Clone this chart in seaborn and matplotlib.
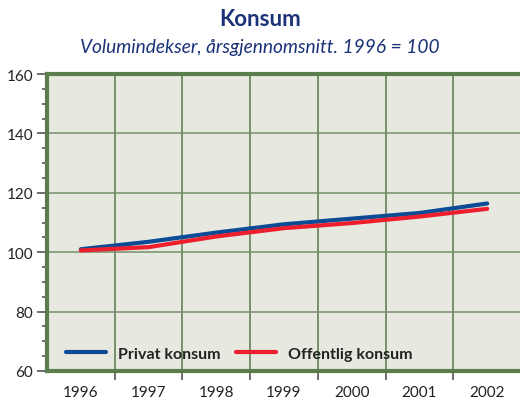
import matplotlib
matplotlib.use("Agg")
import matplotlib.pyplot as plt
from matplotlib.ticker import MultipleLocator, FixedLocator
import numpy as np
import pandas as pd
import seaborn as sns

years = [1996, 1997, 1998, 1999, 2000, 2001, 2002]
privat = [101.0, 103.5, 106.6, 109.4, 111.3, 113.2, 116.4]
offentlig = [100.6, 101.7, 105.3, 108.1, 109.8, 112.0, 114.6]
series_names = ["Privat konsum", "Offentlig konsum"]

title = "Konsum"
subtitle = "Volumindekser, årsgjennomsnitt. 1996 = 100"

df = pd.DataFrame({
    "year": years * 2,
    "value": privat + offentlig,
    "serie": [series_names[0]] * len(years) + [series_names[1]] * len(years),
})

sns.set_style("white")
plt.rcParams["font.family"] = ["Lato", "DejaVu Sans"]

green = "#5b7f4c"
grid_green = "#74906a"
navy = "#1b3278"

fig = plt.figure(figsize=(5.2, 4.02), dpi=100)
ax = fig.add_axes([47 / 520, 1 - 372 / 402, 1 - 47 / 520 + 0.002, (372 - 75) / 402])
ax.set_facecolor("#e7e8e0")

sns.lineplot(data=df, x="year", y="value", hue="serie",
             palette=["#0c4c97", "#ee1f2d"], linewidth=3.0,
             ax=ax, legend=False, zorder=3)

ax.set_xlim(1995.5, 2002.5)
ax.set_ylim(60, 160)
ax.yaxis.set_major_locator(MultipleLocator(20))
ax.yaxis.set_minor_locator(MultipleLocator(5))
ax.xaxis.set_major_locator(FixedLocator(years))
ax.xaxis.set_minor_locator(FixedLocator([y + 0.5 for y in years[:-1]]))
ax.set_xlabel("")
ax.set_ylabel("")

ax.grid(which="major", axis="y", color=grid_green, linewidth=1.1)
ax.grid(which="minor", axis="x", color=grid_green, linewidth=1.4)
ax.grid(which="major", axis="x", visible=False)

ax.tick_params(axis="y", which="major", left=True, length=7, width=1.2,
               color="#555555", labelsize=11, labelcolor="#222222", pad=3)
ax.tick_params(axis="y", which="minor", left=True, length=3.5, width=1.2,
               color="#555555")
ax.tick_params(axis="x", which="major", bottom=True, length=0, labelsize=11,
               labelcolor="#222222", pad=10)
ax.tick_params(axis="x", which="minor", bottom=True, length=6.5, width=1.2,
               color="#555555")

for side in ["left", "bottom", "top"]:
    ax.spines[side].set_color(green)
    ax.spines[side].set_linewidth(3)
ax.spines["right"].set_visible(False)

handles = [plt.Line2D([], [], color="#0c4c97", linewidth=3),
           plt.Line2D([], [], color="#ee1f2d", linewidth=3)]
ax.legend(handles, series_names, ncol=2, frameon=False, loc="lower left",
          bbox_to_anchor=(0.01, -0.015), handlelength=2.5, handletextpad=0.75,
          columnspacing=1.0, prop={"weight": "bold", "size": 11.5},
          labelcolor="#222222")

fig.text(0.5, 1 - 20 / 402, title, ha="center", va="center",
         fontsize=16, fontweight="bold", color=navy)
fig.text(0.5, 1 - 48 / 402, subtitle, ha="center", va="center",
         fontsize=13.8, style="italic", color=navy)

fig.savefig("out.png", dpi=100)
